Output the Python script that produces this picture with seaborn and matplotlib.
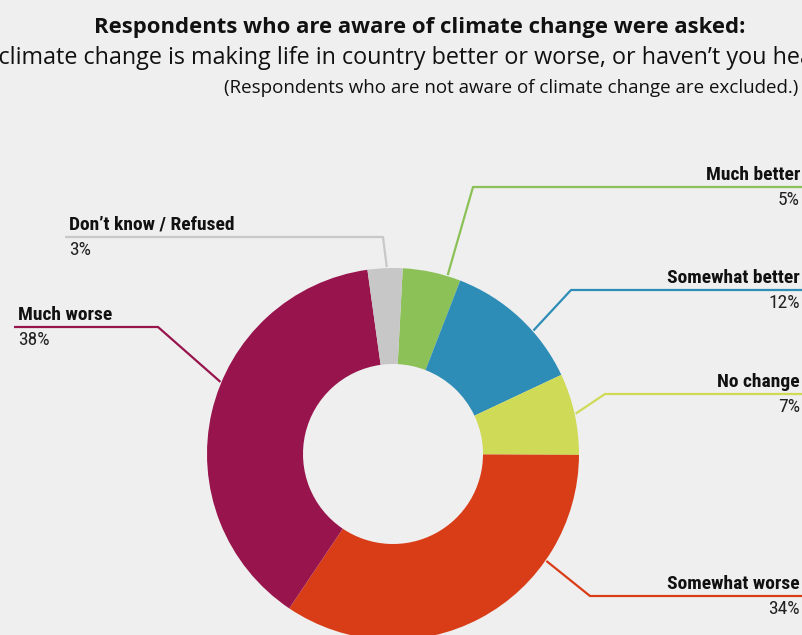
import numpy as np
import seaborn as sns
import matplotlib.pyplot as plt
from matplotlib import font_manager as fm

# data
labels = ["Much better", "Somewhat better", "No change", "Somewhat worse", "Much worse", "Don\u2019t know / Refused"]
shares = [5, 12, 7, 34, 38, 3]
colors = ["#8cc157", "#2e8db6", "#cfdb57", "#d93d17", "#98144d", "#c7c7c7"]

title = "Respondents who are aware of climate change were asked:"
question_lead = "Do you think "
question = "climate change is making life in country better or worse, or haven\u2019t you heard enough to say?"
note = "(Respondents who are not aware of climate change are excluded.)"

W, H = 803, 635
BG = "#efefef"

sns.set_theme(style="white", rc={"figure.facecolor": BG, "axes.facecolor": BG})

# the callout labels in the reference use a condensed face; find one if installed
fonts = fm.fontManager.ttflist
label_font = dict(family=["Lato", "DejaVu Sans"])
label_size = 12.5
for want in ["Liberation Sans Narrow", "Roboto Condensed", "Open Sans Condensed", "Noto Sans Condensed"]:
    if any(f.name == want for f in fonts):
        label_font = dict(family=[want, "DejaVu Sans"])
        label_size = 14
        break
else:
    for fam in ["DejaVu Sans", "Noto Sans", "Roboto", "Open Sans", "Liberation Sans"]:
        if any(f.name == fam and f.stretch in ("condensed", "semi-condensed") for f in fonts):
            label_font = dict(family=[fam], fontstretch="condensed")
            label_size = 13.5
            break
TITLE_FONT = ["Open Sans", "DejaVu Sans"]

fig = plt.figure(figsize=(W / 100, H / 100), dpi=100)
ax = fig.add_axes([0, 0, 1, 1])

cx, cy, R = 393, H - 454, 186
wedges, _ = ax.pie(shares, colors=colors, startangle=87, counterclock=False,
                   center=(cx, cy), radius=R, wedgeprops=dict(width=96, linewidth=0))
ax.set_xlim(0, W)
ax.set_ylim(0, H)
ax.set_aspect("equal")
ax.axis("off")

# layout for callouts: where on the wedge the leader starts, elbow, line end
anchor_frac = [0.77, 0.63, 0.5, 0.28, 0.57, 0.55]
elbows = [(473, 187), (571, 290), (605, 394), (590, 596), (158, 327), (383, 237)]
line_end = [803, 803, 803, 803, 14, 65]
line_colors = colors[:5] + ["#c8c8c8"]

for w, lab, val, f, (ex, ey), xe, lc in zip(wedges, labels, shares, anchor_frac,
                                            elbows, line_end, line_colors):
    # clockwise pie, so each wedge starts at theta2
    ang = np.deg2rad(w.theta2 - f * (w.theta2 - w.theta1))
    px = cx + (R + 1) * np.cos(ang)
    py = cy + (R + 1) * np.sin(ang)
    ey = H - ey
    ax.plot([px, ex, xe], [py, ey, ey], color=lc, lw=1.6, solid_capstyle="butt",
            clip_on=False)
    if xe > cx:
        tx, ha = 800, "right"
    else:
        tx, ha = xe + 4, "left"
    ax.text(tx, ey + 3, lab, ha=ha, va="bottom", fontsize=label_size, fontweight="bold",
            color="#111111", **label_font)
    ax.text(tx, ey - 4, f"{val}%", ha=ha, va="top", fontsize=label_size,
            color="#222222", **label_font)

fig.text(420 / W, 1 - 27 / H, title, ha="center", va="center", fontsize=15.9,
         fontweight="bold", family=TITLE_FONT, color="#111111")

# the question line is wider than the canvas; "climate" sits at the left edge
r = fig.canvas.get_renderer()
probe = fig.text(0, 0, question_lead, fontsize=16.8, family=TITLE_FONT)
lead_w = probe.get_window_extent(r).width
probe.remove()
fig.text((-2 - lead_w) / W, 1 - 58 / H, question_lead + question, ha="left", va="center",
         fontsize=16.8, family=TITLE_FONT, color="#111111")
fig.text(511 / W, 1 - 88 / H, note, ha="center", va="center", fontsize=13.5,
         family=TITLE_FONT, color="#111111")

fig.savefig("out.png", dpi=100, facecolor=BG)
